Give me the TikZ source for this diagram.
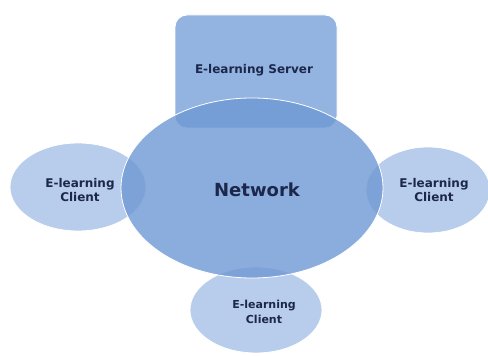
\documentclass[tikz,border=0pt]{standalone}
\usepackage{fontspec}
\setmainfont{DejaVu Sans}
\usetikzlibrary{shapes.geometric}
\definecolor{netblue}{RGB}{110,152,212}
\definecolor{cliblue}{RGB}{172,195,232}
\definecolor{srvblue}{RGB}{128,166,220}
\definecolor{txt}{RGB}{28,40,75}
\tikzset{
  client/.style={ellipse, fill=cliblue, fill opacity=0.85, draw=white, line width=0.8pt, inner sep=0pt},
  netw/.style={ellipse, fill=netblue, fill opacity=0.8, draw=white, line width=0.8pt, inner sep=0pt},
  server/.style={rectangle, rounded corners=12pt, fill=srvblue, fill opacity=0.85, draw=white, line width=0.8pt, inner sep=0pt},
  lbl/.style={text=txt, font=\bfseries\fontsize{12}{14.5}\selectfont, align=center, inner sep=0pt},
  biglbl/.style={text=txt, font=\bfseries\fontsize{18}{20}\selectfont, inner sep=0pt}
}
\begin{document}
\begin{tikzpicture}[x=1pt,y=1pt]
\useasboundingbox (0,0) rectangle (488,356);
\clip (0,0) rectangle (488,356);
\node[server, minimum width=162pt, minimum height=113pt] (srv) at (256,284.5) {};
\node[client, minimum width=136pt, minimum height=88pt] (cl) at (78,169) {};
\node[client, minimum width=124pt, minimum height=86pt] (cr) at (428,166) {};
\node[client, minimum width=132pt, minimum height=86pt] (cb) at (256,46) {};
\node[netw, minimum width=262pt, minimum height=180pt] (net) at (252,168) {};
\node[lbl] (srvt) at (254,286) {E-learning Server};
\node[biglbl] (nett) at (257,166) {Network};
\node[lbl] (clt) at (80,166) {E-learning\\Client};
\node[lbl] (crt) at (434,166) {E-learning\\Client};
\node[lbl, font=\bfseries\fontsize{11}{14.5}\selectfont] (cbt) at (264,44) {E-learning\\Client};
\end{tikzpicture}
\end{document}
